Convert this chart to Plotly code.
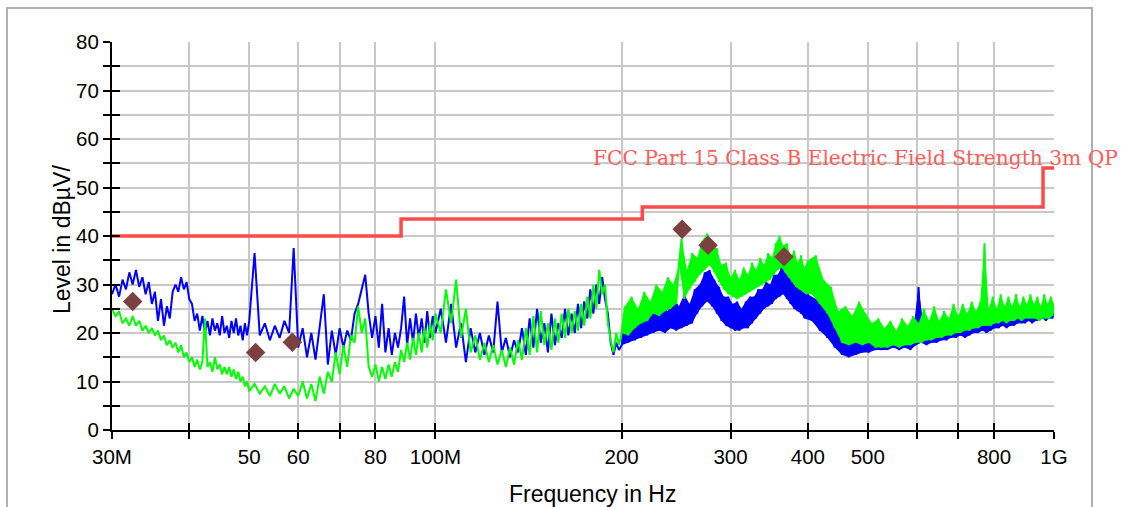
import numpy as np
import plotly.graph_objects as go

# ---------------- data (MHz / dBuV) ----------------
FREQ_A = [30.0, 30.4, 30.8, 31.2, 31.6, 32.0, 32.4, 32.8, 33.2, 33.6, 34.0, 34.4, 34.8, 35.2, 35.6,
          36.0, 36.4, 36.8, 37.2, 37.6, 38.0, 38.4, 38.8, 39.2, 39.6, 40.0, 40.4, 40.8, 41.2, 41.6,
          42.0, 42.4, 42.8, 43.2, 43.6, 44.0, 44.4, 44.8, 45.2, 45.6, 46.0, 46.4, 46.8, 47.2, 47.6,
          48.0, 48.4, 48.8, 49.2, 49.6]
FREQ_B = [50, 51, 52, 53, 54, 55, 56, 57, 58, 59, 60, 61, 62, 63, 64, 65, 66, 67, 68, 69,
          70, 71, 72, 73, 74, 75, 76, 77, 78, 79, 80, 81, 82, 83, 84, 85, 86, 87, 88, 89,
          90, 91, 92, 93, 94, 95, 96, 97, 98, 99]
FREQ_C = [100, 102, 104, 106, 108, 110, 112, 114, 116, 118, 120, 122, 124, 126, 128, 130, 132,
          134, 136, 138, 140, 142, 144, 146, 148, 150, 152, 154, 156, 158, 160, 162, 164, 166,
          168, 170, 172, 174, 176, 178, 180, 182, 184, 186, 188, 190, 192, 194, 196, 198]
FREQ_D = [200, 202.5, 205, 207.5, 210, 212.5, 215, 217.5, 220, 222.5, 225, 227.5, 230, 232.5,
          235, 237.5, 240, 242.5, 245, 247.5, 250, 252.5, 255, 257.5, 260, 262.5, 265, 267.5,
          270, 272.5, 275, 277.5, 280, 282.5, 285, 287.5, 290, 292.5, 295, 297.5, 300, 302.5,
          305, 307.5, 310, 312.5, 315, 317.5, 320, 322.5, 325, 327.5, 330, 332.5, 335, 337.5,
          340, 342.5, 345, 347.5, 350, 352.5, 355, 357.5, 360, 362.5, 365, 367.5, 370, 372.5,
          375, 377.5, 380, 382.5, 385, 387.5, 390, 392.5, 395, 397.5]
FREQ_E = [400, 406, 412, 418, 424, 430, 436, 442, 448, 454, 460, 466, 472, 478, 484, 490, 496,
          502, 508, 514, 520, 526, 532, 538, 544, 550, 556, 562, 568, 574, 580, 586, 592, 598,
          604, 610, 616, 622, 628, 634, 640, 646, 652, 658, 664, 670, 676, 682, 688, 694, 700,
          706, 712, 718, 724, 730, 736, 742, 748, 754, 760, 766, 772, 778, 784, 790, 796, 802,
          808, 814, 820, 826, 832, 838, 844, 850, 856, 862, 868, 874, 880, 886, 892, 898, 904,
          910, 916, 922, 928, 934, 940, 946, 952, 958, 964, 970, 976, 982, 988, 994, 1000]

BLUE_A = [28, 30, 27.5, 31, 29, 32.5, 30, 33, 29.5, 31.5, 28, 30.5, 26, 28.5, 22.5, 27, 21.5,
          25.5, 23, 28.5, 30, 28.5, 31.5, 29, 30.5, 27, 26, 22.5, 24, 20.5, 23.5, 20, 22.5, 19.5,
          23, 20.5, 22, 19.5, 23.5, 20, 21.5, 19, 22.5, 20, 23, 19.5, 21.5, 18.5, 22, 19.5]
BLUE_B = [22.5, 36.5, 19.5, 22, 18.5, 21.5, 19, 22.5, 20, 37.5, 17, 21, 15, 20, 14.5, 21.5, 28,
          13.5, 20.5, 15.5, 21, 17, 20.5, 18.5, 24, 26, 29, 32, 24, 19, 23.5, 17, 26, 16, 21,
          15.5, 20, 17, 21, 27.5, 17.5, 23, 18, 24, 19, 23, 18, 24.5, 19, 23.5]
BLUE_C = [20, 25, 18, 26, 17, 22, 14, 21, 16, 20, 15.5, 19.5, 16, 26.5, 16, 19, 15, 18.5, 16, 21,
          15.5, 23, 17, 25, 18, 22, 16, 24, 17.5, 22, 19, 25, 19.5, 24, 20, 26, 21, 26.5, 23, 29,
          24, 30, 26, 31.5, 27, 24, 18, 15.5, 18, 16.5]
BLUE_D = [17.5, 22.5, 18, 23, 18.5, 24.5, 19, 22.5, 19.5, 25.5,
          20, 24, 20.5, 26.5, 20, 24.5, 21, 27.5, 20.5, 25.5,
          21, 28, 21.5, 26, 22, 29, 24, 30, 25.5, 32.5,
          26.5, 33, 25.5, 31, 24, 29.5, 22.5, 27.5, 21.5, 27.5,
          21, 26, 20.5, 26.5, 20.5, 25, 21, 26.5, 21, 27.5,
          22, 27.5, 23, 29, 24, 29, 25, 30.5, 25.5, 30,
          26, 32, 27, 32, 27.5, 33.5, 28, 33.5, 27, 31.5,
          26, 31.5, 25, 29.5, 24.5, 30, 24, 28.5, 23, 28]
BLUE_E = [28, 22.5, 27, 20.5, 25.5, 19, 23, 17, 20, 15.5,
          18.5, 15, 18, 15.5, 19, 16, 18.5, 16, 19.5, 16.5,
          19, 16.5, 20, 16.5, 21.5, 17, 19.5, 16.5, 20, 17,
          19, 16.5, 20.5, 17.5, 29.5, 18, 21, 17.5, 22, 18,
          21.5, 18, 21, 18.5, 22.5, 18.5, 21.5, 19, 22, 19,
          22.5, 19.5, 21.5, 19, 22, 19.5, 23, 20, 22.5, 20,
          23.5, 20.5, 23, 20, 24, 20.5, 23.5, 21, 24.5, 21,
          24, 21.5, 25, 21, 24, 21.5, 25.5, 21.5, 24.5, 22,
          25, 22, 24.5, 22, 25, 22.5, 24.5, 22, 25.5, 22.5,
          24.5, 22.5, 25, 23, 25, 22.5, 24.5, 23, 25.5, 23,
          24.5]

GREEN_A = [25, 23.5, 24.5, 22, 23, 21.5, 23.5, 21.5, 22.5, 20.5, 21.5, 20, 21, 19.5, 20.5, 18.5,
           19.5, 17.5, 18.5, 17, 18, 16, 17.5, 15, 16, 14, 15, 13, 14.5, 12.5, 14, 23, 13, 14, 12,
           15, 12.5, 13.5, 11.5, 13, 11.5, 13, 11, 12.5, 10.5, 12, 10, 11, 9, 10]
GREEN_B = [8, 9.5, 7.5, 9, 7, 9.5, 7.5, 9, 6.5, 8.5, 7, 10, 6.5, 9.5, 6, 11, 7.5, 12, 10, 16,
           11.5, 17.5, 13, 19.5, 18, 25.5, 20, 23, 13, 11, 13.5, 10, 13, 10.5, 13.5, 11, 14, 12,
           16.5, 14, 18, 14.5, 19, 15.5, 20, 16, 21, 17, 22, 18.5]
GREEN_C = [24, 20, 29, 22, 31, 19, 25, 16, 19.5, 14.5, 18, 14, 17.5, 13.5, 16.5, 13, 17, 13.5,
           18.5, 14.5, 21, 15.5, 23.5, 16, 24.5, 17.5, 22, 16.5, 23, 18, 24, 19, 25, 20, 24.5,
           20.5, 26, 21.5, 27.5, 23, 30, 25, 33, 28, 30, 22, 18.5, 16, 20, 17.5]
GREEN_D = [20, 25.5, 19.5, 27.5, 21, 25, 22, 28.5, 22.5, 26.5,
           24, 30, 23.5, 28.5, 24.5, 31.5, 25, 30, 26, 34,
           39.5, 27, 33, 29, 36.5, 30.5, 35.5, 32, 39, 33,
           40.5, 34, 38, 32.5, 37.5, 30.5, 34, 29, 34.5, 28,
           31.5, 27.5, 33, 27, 31, 27.5, 33.5, 28, 32, 28.5,
           34.5, 29, 33, 29.5, 35.5, 30, 34, 30.5, 36.5, 31,
           35.5, 32, 38.5, 33, 40, 33.5, 38, 32.5, 38.5, 31.5,
           35.5, 30.5, 37, 29.5, 34.5, 29, 36, 28.5, 33.5, 28]
GREEN_E = [35, 28, 36, 26, 31, 24, 29.5, 21, 24.5, 18,
           25.5, 17.5, 23.5, 18, 26.5, 17.5, 24, 18, 22, 17,
           23, 17, 21, 17, 22.5, 17.5, 20.5, 17, 23, 17.5,
           21.5, 17.5, 23.5, 18, 22, 18, 25, 18.5, 22.5, 18.5,
           25.5, 19, 22.5, 19, 24.5, 19.5, 23, 19.5, 26, 20,
           23.5, 20, 26, 20.5, 24, 20.5, 26.5, 21, 24.5, 21,
           26.5, 21.5, 38.5, 21.5, 25, 21.5, 27.5, 22, 25, 22,
           28, 22.5, 25.5, 22, 27.5, 22.5, 25.5, 22.5, 28, 23,
           25.5, 22.5, 27.5, 23, 26, 23, 28, 23, 26, 23,
           27.5, 22.5, 25.5, 23, 28, 23, 26, 23, 27.5, 23.5,
           26]

LIMIT_FREQ = [30, 88, 216, 960, 1000]
LIMIT_LEVEL = [40, 43.5, 46, 54, 54]
LIMIT_NAME = "FCC Part 15 Class B Electric Field Strength 3m QP"

MARKER_FREQ = [32.4, 51.2, 58.7, 250.5, 275.9, 366]
MARKER_LEVEL = [26.5, 16.0, 18.1, 41.4, 38.1, 35.7]

X_TICKS = [30, 40, 50, 60, 70, 80, 100, 200, 300, 400, 500, 600, 700, 800, 1000]
X_TICK_TEXT = ["30M", "", "50", "60", "", "80", "100M", "200", "300", "400", "500", "", "", "800", "1G"]
Y_TICKS = list(range(0, 81, 5))
Y_TICK_TEXT = [str(v) if v % 10 == 0 else "" for v in Y_TICKS]

freq = FREQ_A + FREQ_B + FREQ_C + FREQ_D + FREQ_E
blue = BLUE_A + BLUE_B + BLUE_C + BLUE_D + BLUE_E
green = GREEN_A + GREEN_B + GREEN_C + GREEN_D + GREEN_E

# dense-band part of the sweep (>= 200 MHz): split the read zig-zag into upper/lower edges
band_f = FREQ_D + FREQ_E
band_blue = BLUE_D + BLUE_E
band_green = GREEN_D + GREEN_E


def edges(f, v):
    uf, uv, lf, lv = [], [], [], []
    n = len(v)
    for i in range(n):
        a = v[i - 1] if i > 0 else v[i + 1]
        b = v[i + 1] if i < n - 1 else v[i - 1]
        if v[i] >= a and v[i] >= b:
            uf.append(f[i]); uv.append(v[i])
        elif v[i] <= a and v[i] <= b:
            lf.append(f[i]); lv.append(v[i])
        else:
            uf.append(f[i]); uv.append(v[i])
            lf.append(f[i]); lv.append(v[i])
    return uf, uv, lf, lv


# ---------------- figure ----------------
W, H = 1124, 507
ML, MR, MT, MB = 112, 70, 42, 77
PW, PH = W - ML - MR, H - MT - MB


def px(x):
    return (x - ML) / PW


def py(y):
    return (H - MB - y) / PH


FONT = "Liberation Sans, Arial, sans-serif"
XR = [np.log10(30), np.log10(1000)]

fig = go.Figure()
for vals, bvals, col in ((blue, band_blue, "#0000ff"), (green, band_green, "#00ff00")):
    uf, uv, lf, lv = edges(band_f, bvals)
    fig.add_trace(go.Scatter(x=lf, y=lv, mode="lines", line=dict(color=col, width=0),
                             hoverinfo="skip"))
    fig.add_trace(go.Scatter(x=uf, y=uv, mode="lines", line=dict(color=col, width=0),
                             fill="tonexty", fillcolor=col, hoverinfo="skip"))
    fig.add_trace(go.Scatter(x=freq, y=vals, mode="lines",
                             line=dict(color=col, width=2), hoverinfo="skip"))

fig.add_trace(go.Scatter(x=LIMIT_FREQ, y=LIMIT_LEVEL, mode="lines",
                         line=dict(color="#ff4a4a", width=3.5, shape="hv"), hoverinfo="skip"))
fig.add_trace(go.Scatter(x=MARKER_FREQ, y=MARKER_LEVEL, mode="markers",
                         marker=dict(symbol="diamond", size=15, color="#7b4040",
                                     line=dict(width=0)), hoverinfo="skip"))
# empty traces to activate the overlay axes that carry the inner half of the tick marks
fig.add_trace(go.Scatter(x=[], y=[], xaxis="x2", yaxis="y", hoverinfo="skip"))
fig.add_trace(go.Scatter(x=[], y=[], xaxis="x", yaxis="y2", hoverinfo="skip"))

fig.add_annotation(x=np.log10(178.5), y=56, xref="x", yref="y", text=LIMIT_NAME,
                   showarrow=False, xanchor="left", yanchor="middle",
                   font=dict(family="DejaVu Serif", size=20.2, color="#ff5c5c"))

fig.add_annotation(x=px(62), y=py(240), xref="paper", yref="paper", text="Level in dBµV/",
                   showarrow=False, textangle=-90, xanchor="center", yanchor="middle",
                   font=dict(family=FONT, size=23, color="black"))
fig.add_annotation(x=px(592), y=py(494), xref="paper", yref="paper", text="Frequency in Hz",
                   showarrow=False, xanchor="center", yanchor="middle",
                   font=dict(family=FONT, size=23, color="black"))

fig.add_shape(type="rect", xref="paper", yref="paper",
              x0=px(7), x1=px(1092), y0=py(530), y1=py(8),
              line=dict(color="#b0b0b0", width=2), fillcolor="rgba(0,0,0,0)", layer="below")

axis_common = dict(showgrid=True, gridcolor="#c8c8c8", gridwidth=2, zeroline=False,
                   showline=True, linecolor="black", linewidth=2,
                   ticks="outside", ticklen=7, tickwidth=2, tickcolor="black",
                   tickfont=dict(family=FONT, size=20.5, color="black"))

fig.update_layout(
    width=W, height=H,
    margin=dict(l=ML, r=MR, t=MT, b=MB),
    paper_bgcolor="white", plot_bgcolor="white",
    showlegend=False, hovermode=False,
    xaxis=dict(type="log", range=XR, tickmode="array", tickvals=X_TICKS, ticktext=X_TICK_TEXT,
               **axis_common),
    yaxis=dict(range=[0, 80], tickmode="array", tickvals=Y_TICKS, ticktext=Y_TICK_TEXT,
               **axis_common),
    xaxis2=dict(type="log", range=XR, overlaying="x", anchor="y", side="bottom",
                tickmode="array", tickvals=X_TICKS, ticks="inside", ticklen=7, tickwidth=2,
                tickcolor="black", showticklabels=False, showgrid=False, showline=False,
                zeroline=False),
    yaxis2=dict(range=[0, 80], overlaying="y", anchor="x", side="left",
                tickmode="array", tickvals=Y_TICKS, ticks="inside", ticklen=8, tickwidth=2,
                tickcolor="black", showticklabels=False, showgrid=False, showline=False,
                zeroline=False),
)

fig.write_html("out.html")
